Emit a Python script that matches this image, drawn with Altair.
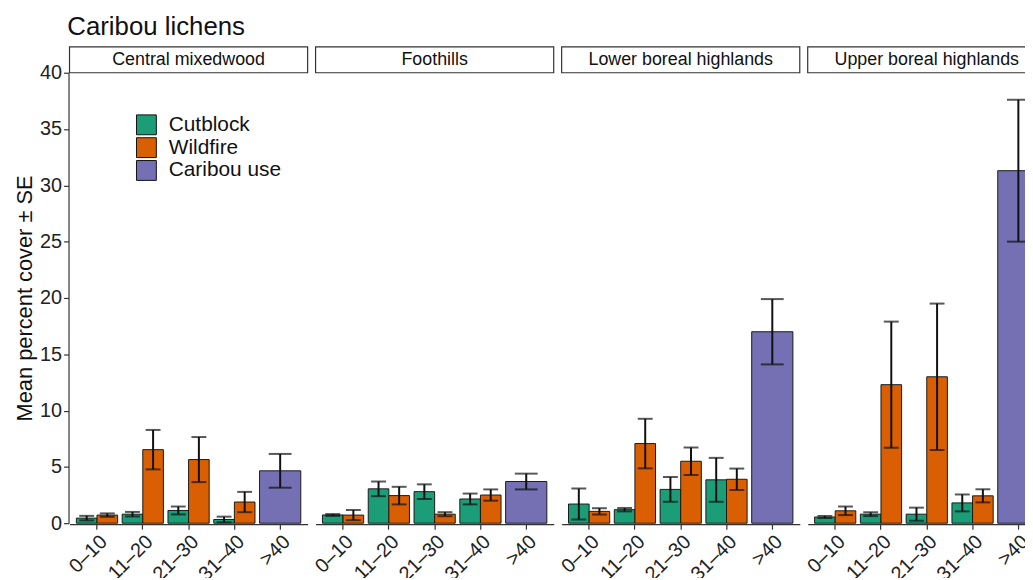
import altair as alt
import pandas as pd

regions = ["Central mixedwood", "Foothills", "Lower boreal highlands", "Upper boreal highlands"]
classes = ["0–10", "11–20", "21–30", "31–40", ">40"]
harvest_classes = ["0–10", "11–20", "21–30", "31–40"]
types = ["Cutblock", "Wildfire", "Caribou use"]
colors = ["#1B9E77", "#D95F02", "#7570B3"]

# per region, per age class (0–10 .. 31–40)
cutblock_mean = [
    [0.45, 0.80, 1.13, 0.33],
    [0.73, 3.05, 2.80, 2.15],
    [1.70, 1.20, 3.00, 3.85],
    [0.55, 0.80, 0.80, 1.80],
]
cutblock_se = [
    [0.20, 0.20, 0.35, 0.25],
    [0.08, 0.65, 0.65, 0.48],
    [1.37, 0.15, 1.10, 1.95],
    [0.10, 0.17, 0.58, 0.75],
]
wildfire_mean = [
    [0.72, 6.53, 5.65, 1.88],
    [0.72, 2.45, 0.80, 2.50],
    [1.05, 7.07, 5.50, 3.90],
    [1.10, 12.3, 13.0, 2.43],
]
wildfire_se = [
    [0.15, 1.75, 2.00, 0.90],
    [0.45, 0.78, 0.18, 0.50],
    [0.28, 2.20, 1.22, 0.95],
    [0.38, 5.60, 6.50, 0.58],
]
caribou_mean = [4.65, 3.70, 17.0, 31.3]
caribou_se = [1.50, 0.70, 2.90, 6.30]

rows = []
for r, reg in enumerate(regions):
    for c, cl in enumerate(harvest_classes):
        rows.append(dict(region=reg, cls=cl, type="Cutblock",
                         mean=cutblock_mean[r][c], se=cutblock_se[r][c]))
        rows.append(dict(region=reg, cls=cl, type="Wildfire",
                         mean=wildfire_mean[r][c], se=wildfire_se[r][c]))
    rows.append(dict(region=reg, cls=">40", type="Caribou use",
                     mean=caribou_mean[r], se=caribou_se[r]))
df = pd.DataFrame(rows)
df["lo"] = df["mean"] - df["se"]
df["hi"] = df["mean"] + df["se"]

FONT = "Liberation Sans"
W, H = 240, 454

x = alt.X("cls:N", sort=classes,
          scale=alt.Scale(domain=classes, paddingInner=0.1, paddingOuter=0.15),
          axis=alt.Axis(title=None, labelAngle=-45, labelFontSize=20, labelColor="#222",
                        labelPadding=2, tickSize=5, tickColor="#333", domainColor="#333",
                        domainWidth=1.2, tickWidth=1.2, labelFont=FONT))
xo = alt.XOffset("type:N", scale=alt.Scale(domain=["Cutblock", "Wildfire"],
                                            paddingInner=0, paddingOuter=0))
y = alt.Y("mean:Q", scale=alt.Scale(domain=[0, 40], nice=False),
          axis=alt.Axis(title="Mean percent cover ± SE", values=list(range(0, 41, 5)),
                        titleFontSize=22, titleFontWeight="normal", titleColor="#111",
                        titlePadding=3, labelFontSize=20, labelColor="#222", labelPadding=2,
                        tickSize=5, tickColor="#333", tickWidth=1.2, domainColor="#333",
                        domainWidth=1.2, labelFont=FONT, titleFont=FONT))
color = alt.Color("type:N", scale=alt.Scale(domain=types, range=colors),
                  legend=alt.Legend(title=None, orient="none", legendX=67, legendY=42,
                                    symbolType="square", symbolSize=400, labelFontSize=21,
                                    labelFont=FONT, labelColor="#111", symbolStrokeColor="#111",
                                    symbolStrokeWidth=1, rowPadding=-3, labelOffset=12,
                                    symbolOpacity=1))

not_car = "datum.type != 'Caribou use'"
is_car = "datum.type == 'Caribou use'"

bars = alt.Chart().mark_bar(stroke="#1a1a1a", strokeWidth=1, opacity=1).encode(
    x=x, xOffset=xo, y=y, color=color).transform_filter(not_car)
bars_c = alt.Chart().mark_bar(stroke="#1a1a1a", strokeWidth=1, opacity=1).encode(
    x=x, y=y, color=color).transform_filter(is_car)

err = alt.Chart().mark_rule(color="#111", strokeWidth=2).encode(
    x=x, xOffset=xo, y="lo:Q", y2="hi:Q").transform_filter(not_car)
cap_lo = alt.Chart().mark_tick(color="#111", thickness=2, size=15).encode(
    x=x, xOffset=xo, y="lo:Q").transform_filter(not_car)
cap_hi = alt.Chart().mark_tick(color="#111", thickness=2, size=15).encode(
    x=x, xOffset=xo, y="hi:Q").transform_filter(not_car)

err_c = alt.Chart().mark_rule(color="#111", strokeWidth=2).encode(
    x=x, y="lo:Q", y2="hi:Q").transform_filter(is_car)
cap_lo_c = alt.Chart().mark_tick(color="#111", thickness=2, size=23).encode(
    x=x, y="lo:Q").transform_filter(is_car)
cap_hi_c = alt.Chart().mark_tick(color="#111", thickness=2, size=23).encode(
    x=x, y="hi:Q").transform_filter(is_car)

one = "datum.cls == '0–10' && datum.type == 'Cutblock'"
strip = alt.Chart().mark_rect(fill="white", stroke="#333", strokeWidth=1.2).encode(
    x=alt.value(0), x2=alt.value(W), y=alt.value(-26), y2=alt.value(0)
).transform_filter(one)
strip_text = alt.Chart().mark_text(fontSize=18, font=FONT, color="#111", baseline="middle").encode(
    x=alt.value(W / 2), y=alt.value(-13), text="region:N"
).transform_filter(one)

layer = alt.layer(strip, strip_text, bars, bars_c, err, cap_lo, cap_hi, err_c, cap_lo_c, cap_hi_c
                  ).properties(width=W, height=H)

PL, PT = 62, 63
chart = layer.facet(
    data=df,
    column=alt.Column("region:N", sort=regions, header=alt.Header(labels=False, title=None)),
    spacing=6,
).properties(
    title=alt.Title("Caribou lichens", anchor="start", fontSize=26, fontWeight="normal",
                    font=FONT, color="#111", offset=6, dx=54),
    autosize=alt.AutoSizeParams(type="none"),
    padding={"left": PL, "top": PT, "right": 1025 - PL, "bottom": 570 - PT},
).configure_view(stroke=None).configure_axis(grid=False)

chart.save("out.html", embed_options={"renderer": "svg", "actions": False})
